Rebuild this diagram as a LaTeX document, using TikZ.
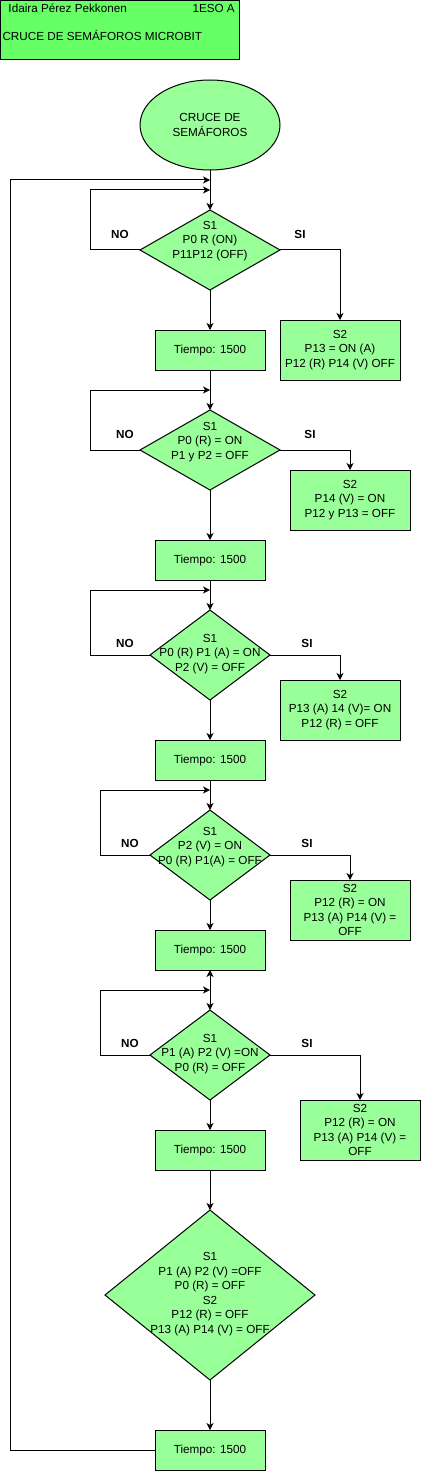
\documentclass[tikz,border=0pt]{standalone}
\usepackage{fontspec}
\setmainfont{Liberation Sans}
\usetikzlibrary{shapes.geometric,arrows.meta}
\definecolor{nodegreen}{HTML}{99FF99}
\definecolor{headgreen}{HTML}{66FF66}
\begin{document}
\begin{tikzpicture}[x=1pt,y=-1pt,line width=1pt,
  font=\fontsize{11.7}{14.5}\selectfont,
  box/.style={draw,fill=nodegreen,rectangle,inner sep=0pt,outer sep=0pt,align=center},
  tbox/.style={box,minimum width=110pt,minimum height=40pt},
  sbox/.style={box,minimum width=120pt,minimum height=60pt},
  dia/.style={draw,fill=nodegreen,diamond,inner sep=0pt,outer sep=0pt},
  txt/.style={align=center,inner sep=0pt},
  lab/.style={font=\fontsize{11.7}{14}\selectfont\bfseries,inner sep=0pt},
  arr/.style={-{Stealth[length=7pt,width=7pt,inset=2pt]}},
  arrb/.style={{Stealth[length=7pt,width=7pt,inset=2pt]}-{Stealth[length=7pt,width=7pt,inset=2pt]}}]
\useasboundingbox (0,0) rectangle (421,1471);
% header
\node[draw,fill=headgreen,rectangle,minimum width=239pt,minimum height=59pt,inner sep=0pt,outer sep=0pt,anchor=north west] (hdr) at (0.5,0.5) {};
\node[txt,anchor=west] (hname) at (8,8) {Idaira Pérez Pekkonen};
\node[txt,anchor=west] (hgrp) at (192,8) {1ESO A};
\node[txt,anchor=west] (htitle) at (2,35) {CRUCE DE SEMÁFOROS MICROBIT};
% start
\node[draw,fill=nodegreen,ellipse,minimum width=140pt,minimum height=90pt,inner sep=0pt,outer sep=0pt,align=center] (e) at (210,125) {CRUCE DE\\SEMÁFOROS};
% junctions
\coordinate (j1) at (210,180);
\coordinate (j2) at (210,190);
\coordinate (j3) at (210,390);
\coordinate (j4) at (210,590);
\coordinate (j5) at (210,790);
\coordinate (j6) at (210,990);
\coordinate (lft) at (10,0);
% diamonds
\node[dia,minimum width=140pt,minimum height=80pt] (d1) at (210,250) {};
\node[txt] (d1t) at (210,241) {S1\\P0 R (ON)\\P11P12 (OFF)};
\node[dia,minimum width=140pt,minimum height=80pt] (d2) at (210,450) {};
\node[txt] (d2t) at (210,442) {S1\\P0 (R) = ON\\P1 y P2 = OFF};
\node[dia,minimum width=120pt,minimum height=90pt] (d3) at (210,655) {};
\node[txt] (d3t) at (210,654) {S1\\P0 (R) P1 (A) = ON\\P2 (V) = OFF};
\node[dia,minimum width=120pt,minimum height=90pt] (d4) at (210,855) {};
\node[txt] (d4t) at (210,847) {S1\\P2 (V) = ON\\P0 (R) P1(A) = OFF};
\node[dia,minimum width=120pt,minimum height=90pt] (d5) at (210,1055) {};
\node[txt] (d5t) at (210,1054) {S1\\P1 (A) P2 (V) =ON\\P0 (R) = OFF};
\node[dia,minimum width=210pt,minimum height=170pt] (d6) at (210,1295) {};
\node[txt] (d6t) at (210,1294) {S1\\P1 (A) P2 (V) =OFF\\P0 (R) = OFF\\S2\\P12 (R) = OFF\\P13 (A) P14 (V) = OFF};
% timers
\node[tbox] (t1) at (210,350) {Tiempo: 1500};
\node[tbox] (t2) at (210,560) {Tiempo: 1500};
\node[tbox] (t3) at (210,760) {Tiempo: 1500};
\node[tbox] (t4) at (210,950) {Tiempo: 1500};
\node[tbox] (t5) at (210,1150) {Tiempo: 1500};
\node[tbox] (t6) at (210,1450) {Tiempo: 1500};
% S2 boxes
\node[sbox] (s1) at (340,350) {S2\\P13 = ON (A)\\P12 (R) P14 (V) OFF};
\node[sbox] (s2) at (350,500) {S2\\P14 (V) = ON\\P12 y P13 = OFF};
\node[sbox] (s3) at (340,710) {S2\\P13 (A) 14 (V)= ON\\P12 (R) = OFF};
\node[sbox] (s4) at (350,910) {S2\\P12 (R) = ON\\P13 (A) P14 (V) =\\OFF};
\node[sbox] (s5) at (360,1130) {S2\\P12 (R) = ON\\P13 (A) P14 (V) =\\OFF};
% labels
\node[lab] (no1) at (120,234) {NO};
\node[lab] (si1) at (300,234) {SI};
\node[lab] (no2) at (125,434) {NO};
\node[lab] (si2) at (310,434) {SI};
\node[lab] (no3) at (125,643) {NO};
\node[lab] (si3) at (307,643) {SI};
\node[lab] (no4) at (130,843) {NO};
\node[lab] (si4) at (307,843) {SI};
\node[lab] (no5) at (130,1043) {NO};
\node[lab] (si5) at (307,1043) {SI};
% connectors
\draw[arr] (e.south) -- (d1.north);
\draw[arr] (t6.west) -- (t6.west -| lft) -- (lft |- j1) -- (j1);
\draw[arr] (d1.west) -- ++(-50,0) |- (j2);
\draw[arr] (d1.east) -| (s1.north);
\draw[arr] (d1.south) -- (t1.north);
\draw[arr] (t1.south) -- (d2.north);
\draw[arr] (d2.west) -- ++(-50,0) |- (j3);
\draw[arr] (d2.east) -| (s2.north);
\draw[arr] (d2.south) -- (t2.north);
\draw[arr] (t2.south) -- (d3.north);
\draw[arr] (d3.west) -- ++(-60,0) |- (j4);
\draw[arr] (d3.east) -| (s3.north);
\draw[arr] (d3.south) -- (t3.north);
\draw[arr] (t3.south) -- (d4.north);
\draw[arr] (d4.west) -- ++(-50,0) |- (j5);
\draw[arr] (d4.east) -| (s4.north);
\draw[arr] (d4.south) -- (t4.north);
\draw[arrb] (t4.south) -- (d5.north);
\draw[arr] (d5.west) -- ++(-50,0) |- (j6);
\draw[arr] (d5.east) -| (s5.north);
\draw[arr] (d5.south) -- (t5.north);
\draw[arr] (t5.south) -- (d6.north);
\draw[arr] (d6.south) -- (t6.north);
\end{tikzpicture}
\end{document}
